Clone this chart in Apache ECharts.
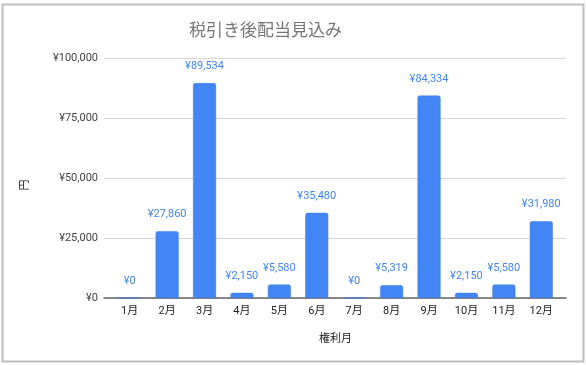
<!DOCTYPE html>
<html>
<head>
<meta charset="utf-8">
<script src="https://cdn.jsdelivr.net/npm/echarts@6/dist/echarts.min.js"></script>
<style>
html,body{margin:0;padding:0;background:#fff;}
#c{width:586px;height:365px;}
</style>
</head>
<body>
<div id="c"></div>
<script>
const titleText = '税引き後配当見込み';
const xName = '権利月';
const yName = '円';
const months = ['1月','2月','3月','4月','5月','6月','7月','8月','9月','10月','11月','12月'];
const values = [0, 27860, 89534, 2150, 5580, 35480, 0, 5319, 84334, 2150, 5580, 31980];
const yMin = 0, yMax = 100000, yStep = 25000;

function yen(v){
  return '¥' + String(Math.round(v)).replace(/\B(?=(\d{3})+(?!\d))/g, ',');
}

const chart = echarts.init(document.getElementById('c'), null, {renderer:'canvas'});
const font = 'Roboto, "Noto Sans CJK JP", sans-serif';
chart.setOption({
  animation:false,
  backgroundColor:'#fff',
  textStyle:{fontFamily:font},
  title:{
    text:titleText, left:184, top:18,
    textStyle:{fontSize:17, fontWeight:'normal', color:'#757575', fontFamily:font}
  },
  grid:[
    {left:111, right:26, top:58, bottom:67},
    {left:104, right:20, top:58, bottom:67}
  ],
  xAxis:[
    {type:'category', gridIndex:0, data:months,
     axisLine:{show:false}, axisTick:{show:false},
     axisLabel:{fontSize:11, color:'#222', margin:8, fontFamily:font},
     name:xName, nameLocation:'middle', nameGap:36,
     nameTextStyle:{fontSize:11, color:'#222', fontFamily:font}},
    {type:'category', gridIndex:1, data:months,
     axisLine:{show:true, lineStyle:{color:'#666', width:1.5}},
     axisTick:{show:false}, axisLabel:{show:false}}
  ],
  yAxis:[
    {type:'value', gridIndex:0, min:yMin, max:yMax, interval:yStep, show:false},
    {type:'value', gridIndex:1, min:yMin, max:yMax, interval:yStep,
     axisLine:{show:false}, axisTick:{show:false},
     splitLine:{lineStyle:{color:'#d6d6d6', width:1}},
     axisLabel:{fontSize:11, color:'#444', margin:6, formatter:yen, fontFamily:font}}
  ],
  series:[{
    type:'bar', xAxisIndex:0, yAxisIndex:0, data:values, barWidth:23,
    itemStyle:{color:'#4285F4', borderRadius:[2,2,0,0], borderColor:'#3b78e7', borderWidth:0.5},
    label:{show:true, position:'top', distance:11, formatter:p=>yen(p.value),
           fontSize:11, color:'#4285F4', fontFamily:font}
  }],
  graphic:[
    {type:'rect', shape:{x:2.5, y:4.5, width:581, height:357}, silent:true, z:-1,
     style:{fill:'none', stroke:'#bdbdbd', lineWidth:2}},
    {type:'text', x:25, y:185, rotation:Math.PI/2,
     style:{text:yName, fontSize:11, fill:'#222', align:'center', verticalAlign:'middle', fontFamily:font}}
  ]
});
</script>
</body>
</html>
